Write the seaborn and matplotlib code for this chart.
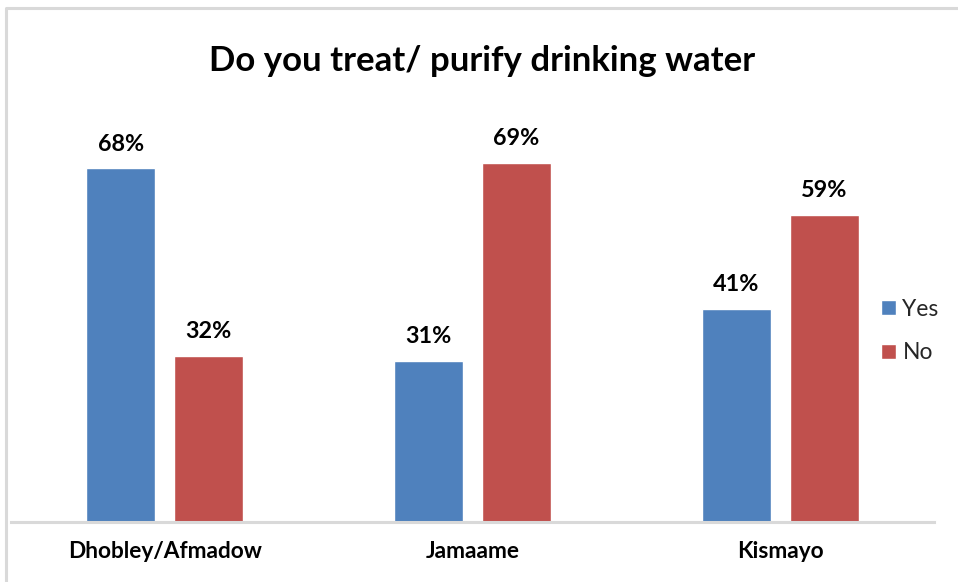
import matplotlib
matplotlib.use("Agg")
import matplotlib.pyplot as plt
from matplotlib.lines import Line2D
import seaborn as sns
import pandas as pd

regions = ["Dhobley/Afmadow", "Jamaame", "Kismayo"]
yes_pct = [68, 31, 41]
no_pct = [32, 69, 59]
answers = ["Yes", "No"]
colors = ["#4F81BD", "#C0504D"]

df = pd.DataFrame({
    "region": regions * 2,
    "answer": [answers[0]] * len(regions) + [answers[1]] * len(regions),
    "pct": yes_pct + no_pct,
})

sns.set_theme(style="white")
plt.rcParams["font.family"] = ["Lato", "DejaVu Sans"]

fig = plt.figure(figsize=(9.58, 5.82), dpi=100)
W, H = 958, 582
ax = fig.add_axes([11 / W, 1 - 522 / H, (934 - 11) / W, (522 - 106) / H])

sns.barplot(data=df, x="region", y="pct", hue="answer", hue_order=answers,
            palette=colors, width=0.572, gap=0.217, saturation=1,
            ax=ax, legend=True)

ax.set_xlim(-0.5, 2.5)
ax.set_ylim(0, 80)
ax.set_xlabel("")
ax.set_ylabel("")
ax.set_yticks([])
for side in ["left", "right", "top"]:
    ax.spines[side].set_visible(False)
ax.spines["bottom"].set_color("#D9D9D9")
ax.spines["bottom"].set_linewidth(2.2)
ax.tick_params(axis="x", length=0, pad=14)
for lbl in ax.get_xticklabels():
    lbl.set_fontweight("bold")
    lbl.set_fontsize(16.3)
    lbl.set_color("#000000")

for cont in ax.containers:
    ax.bar_label(cont, labels=[f"{v:.0f}%" for v in cont.datavalues],
                 padding=10, fontsize=16.8, fontweight="bold", color="#000000")

ax.legend(loc="center left", bbox_to_anchor=(860 / W, 1 - 331 / H),
          bbox_transform=fig.transFigure, frameon=False, fontsize=16.5,
          handlelength=0.65, handleheight=0.65, handletextpad=0.3,
          labelspacing=1.0)

fig.text(482 / W, 1 - 61 / H, "Do you treat/ purify drinking water",
         ha="center", va="center", fontsize=25, fontweight="bold", color="#000000")

# chart frame edges
fig.add_artist(Line2D([6 / W, 6 / W, 1.0], [0.0, 1 - 8 / H, 1 - 8 / H],
                      transform=fig.transFigure, color="#D9D9D9", linewidth=2.2))

fig.savefig("out.png", dpi=100, facecolor="white")
